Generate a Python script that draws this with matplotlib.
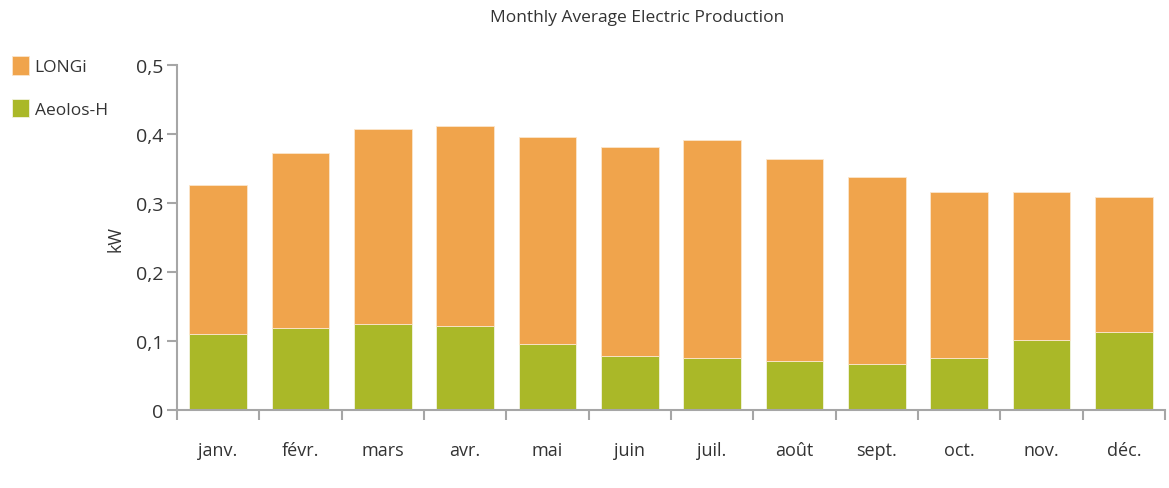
import matplotlib.pyplot as plt
import numpy as np

# monthly averages, kW
months = ['janv.', 'févr.', 'mars', 'avr.', 'mai', 'juin',
          'juil.', 'août', 'sept.', 'oct.', 'nov.', 'déc.']
aeolos = [0.110, 0.119, 0.125, 0.122, 0.096, 0.078,
          0.075, 0.071, 0.067, 0.075, 0.101, 0.113]
longi = [0.216, 0.254, 0.282, 0.290, 0.300, 0.303,
         0.316, 0.293, 0.271, 0.241, 0.215, 0.196]

yticks = [0, 0.1, 0.2, 0.3, 0.4, 0.5]
ytick_labels = ['0', '0,1', '0,2', '0,3', '0,4', '0,5']

orange = '#F0A44C'
green = '#AAB828'
axis_grey = '#A6A6A6'
text_col = '#333333'

plt.rcParams['font.family'] = ['Open Sans', 'DejaVu Sans']

fig = plt.figure(figsize=(11.69, 4.89), dpi=100)
ax = fig.add_axes([0.1514, 0.1595, 0.8452, 0.7055])

x = np.arange(len(months))
b1 = ax.bar(x, aeolos, width=0.7, color=green, edgecolor='#F3F3E0', linewidth=0.6)
b2 = ax.bar(x, longi, width=0.7, bottom=aeolos, color=orange, edgecolor='#FBE6CC', linewidth=0.6)

ax.set_xlim(-0.5, len(months) - 0.5)
ax.set_ylim(0, 0.5)

ax.set_xticks(x)
ax.set_xticklabels(months, fontsize=13, color=text_col)
ax.tick_params(axis='x', which='major', length=0, pad=22)
ax.set_xticks(np.arange(-0.5, len(months)), minor=True)
ax.tick_params(axis='x', which='minor', length=7, color=axis_grey, width=1.5)

ax.set_yticks(yticks)
ax.set_yticklabels(ytick_labels, fontsize=14, color=text_col)
ax.tick_params(axis='y', length=7, color=axis_grey, width=1.5, pad=3)

for side in ['top', 'right']:
    ax.spines[side].set_visible(False)
for side in ['left', 'bottom']:
    ax.spines[side].set_color(axis_grey)
    ax.spines[side].set_linewidth(1.5)

ax.set_ylabel('kW', fontsize=13, color=text_col, labelpad=8)
fig.suptitle('Monthly Average Electric Production', x=0.545, y=0.98,
             fontsize=12.5, color=text_col)

fig.legend([b2, b1], ['LONGi', 'Aeolos-H'], loc='upper left',
           bbox_to_anchor=(-0.003, 0.915), frameon=False, fontsize=12.5,
           handlelength=1.0, handleheight=1.25, handletextpad=0.3,
           labelspacing=1.35, labelcolor=text_col)

fig.savefig('out.png', dpi=100)
